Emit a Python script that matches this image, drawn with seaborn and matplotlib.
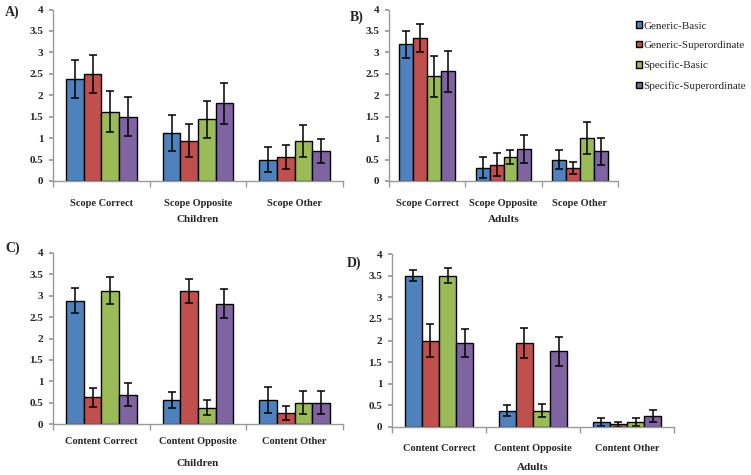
import numpy as np
import pandas as pd
import matplotlib
matplotlib.use("Agg")
import matplotlib.pyplot as plt
import seaborn as sns

sns.set_theme(style="ticks")
plt.rcParams["font.family"] = ["Liberation Serif", "DejaVu Serif"]
plt.rcParams["font.weight"] = "bold"

# ============================================================
# Data
# ============================================================

conditions = ["Generic-Basic", "Generic-Superordinate", "Specific-Basic", "Specific-Superordinate"]
colors = ["#4F81BD", "#C0504D", "#9BBB59", "#8064A2"]

scope_cats = ["Scope Correct", "Scope Opposite", "Scope Other"]
content_cats = ["Content Correct", "Content Opposite", "Content Other"]

# rows = conditions, columns = categories
a_mean = [[2.38, 1.12, 0.50], [2.50, 0.94, 0.56], [1.62, 1.44, 0.94], [1.50, 1.81, 0.69]]
a_err = [[0.45, 0.43, 0.30], [0.45, 0.39, 0.27], [0.48, 0.43, 0.37], [0.45, 0.47, 0.28]]

b_mean = [[3.19, 0.31, 0.50], [3.33, 0.38, 0.31], [2.44, 0.56, 1.00], [2.56, 0.75, 0.69]]
b_err = [[0.31, 0.25, 0.22], [0.33, 0.27, 0.14], [0.47, 0.16, 0.38], [0.48, 0.33, 0.31]]

c_mean = [[2.88, 0.56, 0.56], [0.62, 3.12, 0.25], [3.12, 0.38, 0.50], [0.69, 2.81, 0.50]]
c_err = [[0.29, 0.18, 0.31], [0.22, 0.28, 0.16], [0.32, 0.18, 0.27], [0.28, 0.34, 0.27]]

d_mean = [[3.50, 0.38, 0.12], [2.00, 1.94, 0.06], [3.50, 0.38, 0.12], [1.94, 1.75, 0.25]]
d_err = [[0.12, 0.13, 0.09], [0.37, 0.35, 0.06], [0.18, 0.16, 0.09], [0.32, 0.34, 0.14]]

panels = [
    ("A)", scope_cats, a_mean, a_err, "Children"),
    ("B)", scope_cats, b_mean, b_err, "Adults"),
    ("C)", content_cats, c_mean, c_err, "Children"),
    ("D)", content_cats, d_mean, d_err, "Adults"),
]

# axes boxes in pixels: left, top, right, bottom
W, H = 751, 475
boxes = [(53, 9.5, 343, 181), (389, 9.5, 618, 181), (53, 253, 343, 424), (392, 254, 674, 427)]
label_pos = [(5, 12), (350, 17), (5, 248), (347, 263)]
xlabel_y = [220, 220, 463, 467]
tick_pad = [13, 13, 9, 12]

fig = plt.figure(figsize=(W / 100, H / 100), dpi=100)

for i, (tag, cats, mean, err, who) in enumerate(panels):
    l, t, r, b = boxes[i]
    ax = fig.add_axes([l / W, 1 - b / H, (r - l) / W, (b - t) / H])

    df = pd.DataFrame({
        "cat": [c for cond in conditions for c in cats],
        "cond": [cond for cond in conditions for c in cats],
        "val": [v for row in mean for v in row],
    })
    sns.barplot(data=df, x="cat", y="val", hue="cond", order=cats, hue_order=conditions,
                palette=colors, width=0.73, gap=0, errorbar=None, saturation=1,
                edgecolor="black", linewidth=1.0, ax=ax, legend=(i == 1))

    # error bars at the bar centres
    bar_groups = list(ax.containers)
    for k, cont in enumerate(bar_groups):
        for j, bar in enumerate(cont.patches):
            xc = bar.get_x() + bar.get_width() / 2
            ax.errorbar(xc, bar.get_height(), yerr=err[k][j], color="black",
                        capsize=3, elinewidth=1.1, capthick=1.1)

    ax.set_ylim(0, 4)
    ax.set_xlim(-0.5, len(cats) - 0.5)
    ax.set_yticks(np.arange(0, 4.01, 0.5))
    ax.set_yticklabels(["0", "0.5", "1", "1.5", "2", "2.5", "3", "3.5", "4"])
    ax.set_xticks(np.arange(-0.5, len(cats), 1.0), minor=True)
    ax.tick_params(axis="x", which="major", length=0, pad=tick_pad[i], labelsize=7.5)
    ax.tick_params(axis="x", which="minor", length=4, color="#999999")
    ax.tick_params(axis="y", length=3, color="#999999", labelsize=8, pad=4)
    for lab in ax.get_xticklabels() + ax.get_yticklabels():
        lab.set_fontweight("bold")
    ax.set_xlabel("")
    ax.set_ylabel("")
    sns.despine(ax=ax)
    for s in ["left", "bottom"]:
        ax.spines[s].set_color("#999999")
        ax.spines[s].set_linewidth(1.0)

    fig.text(((l + r) / 2) / W, 1 - xlabel_y[i] / H, who, ha="center", va="center",
             fontsize=8, fontweight="bold")
    fig.text(label_pos[i][0] / W, 1 - label_pos[i][1] / H, tag, ha="left", va="center",
             fontsize=10, fontweight="bold")

    if i == 1:
        handles, labels = ax.get_legend_handles_labels()
        ax.get_legend().remove()
        fig.legend(handles, labels, loc="upper left", bbox_to_anchor=(632 / W, 1 - 17 / H),
                   frameon=False, prop={"size": 8, "weight": "normal"},
                   handlelength=0.5, handleheight=0.5,
                   handletextpad=0.15, labelspacing=0.95, borderaxespad=0)

fig.savefig("out.png", dpi=100)
